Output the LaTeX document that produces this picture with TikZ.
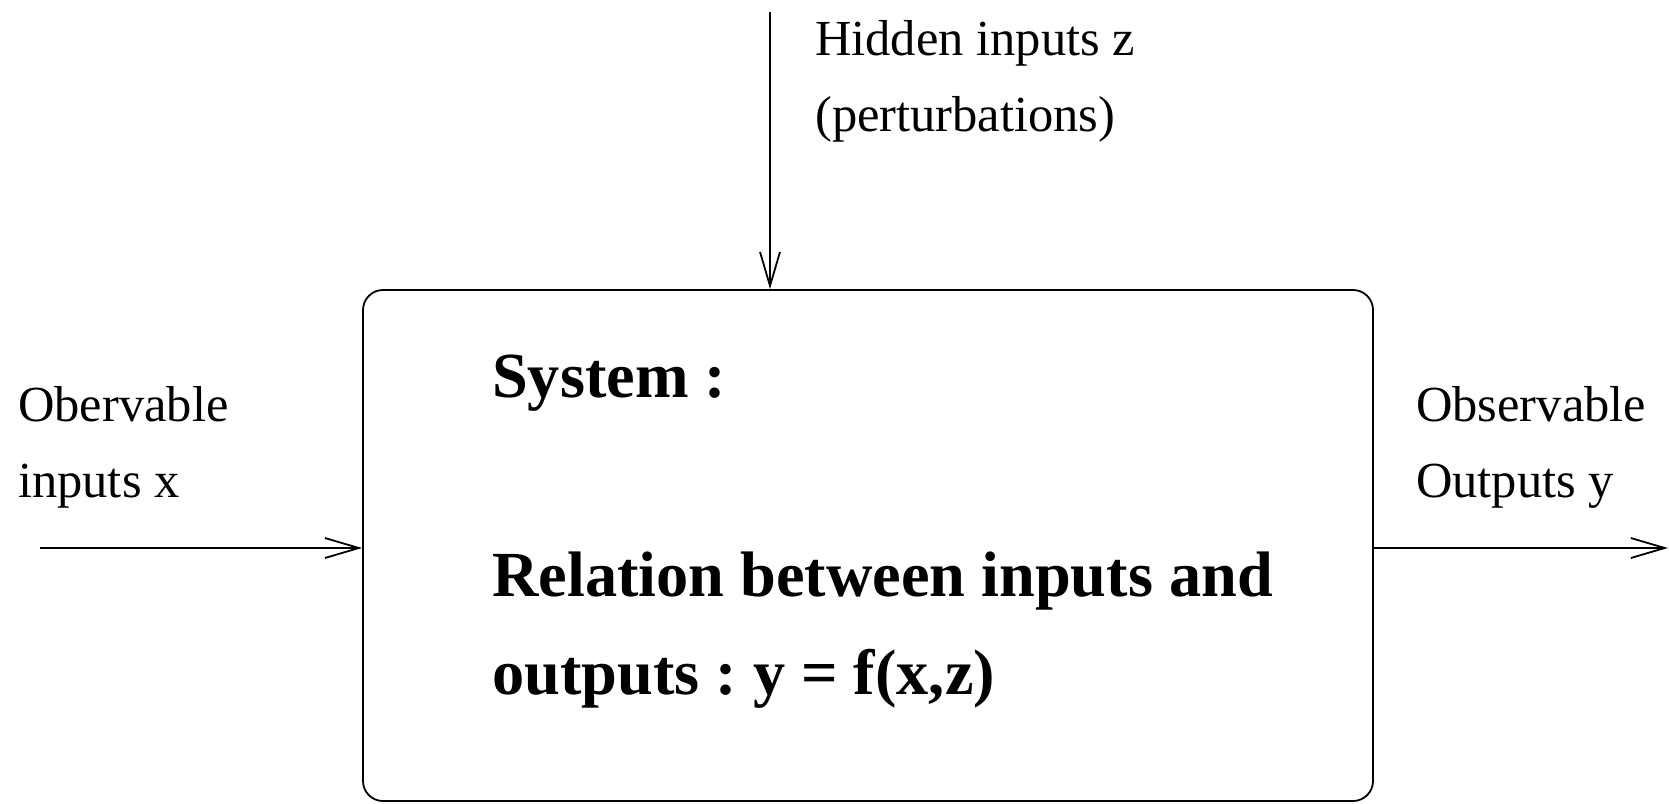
\documentclass[tikz,border=0pt]{standalone}
\usepackage{fontspec}
\setmainfont{Liberation Serif}
\usetikzlibrary{arrows.meta}
\frenchspacing
\begin{document}
\begin{tikzpicture}[x=1pt,y=-1pt,
  lbl/.style={anchor=base west,inner sep=0pt,font=\fontsize{50.5}{60}\selectfont},
  bld/.style={anchor=base west,inner sep=0pt,font=\fontsize{64.3}{76}\selectfont\bfseries},
  conn/.style={line width=1.8pt,-{Straight Barb[length=34pt,width=20pt,line width=1.8pt]}},
  sysbox/.style={draw,line width=1.8pt,rounded corners=20pt,minimum width=1010pt,minimum height=511pt,inner sep=0pt}]
\useasboundingbox (0,0) rectangle (1669,803);
\node[sysbox] (sys) at (868,545.5) {};
\coordinate (ztop) at (770,12);
\coordinate (xin) at (40,548);
\coordinate (yout) at (1668,548);
\draw[conn] (ztop) -- (ztop |- sys.north);
\draw[conn] (xin) -- (xin -| sys.west);
\draw[conn] (yout -| sys.east) -- (yout);
\node[lbl] (h1) at (815,55) {Hidden inputs z};
\node[lbl] (h2) at (815,131) {(perturbations)};
\node[lbl] (o1) at (18,421) {Obervable};
\node[lbl] (o2) at (18,497) {inputs x};
\node[lbl] (r1) at (1416,421) {Observable};
\node[lbl] (r2) at (1416,497) {Outputs y};
\node[bld] (s1) at (492,397) {System :};
\node[bld] (s2) at (492,596) {Relation between inputs and};
\node[bld] (s3) at (492,694) {outputs : y = f(x,z)};
\end{tikzpicture}
\end{document}
